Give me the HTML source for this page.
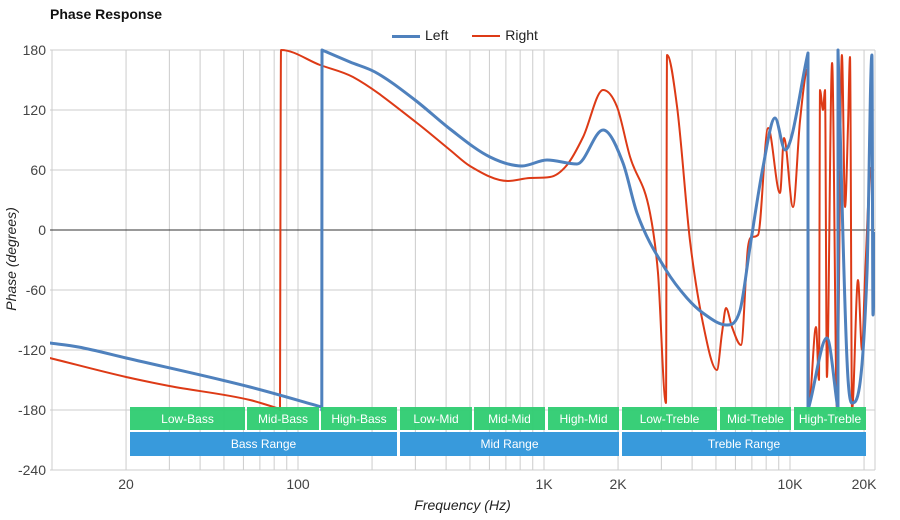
<!DOCTYPE html>
<html><head><meta charset="utf-8"><style>
body{margin:0;background:#fff;}
svg{display:block;font-family:"Liberation Sans",sans-serif;}
</style></head><body>
<svg id="chart" width="900" height="520"></svg>
<script>
const leftFreq=[9.8,12.8,20,63.8,125,125,125.2,162.7,205.6,299,415,603,814,1028,1362,1738,2095,2388,3133,3811,4426,5545,6266,6876,7768,8690,9548,11839,11839,12048,14130,15530,15670,15670,17060,17870,20560,21530,21740,22170];
const leftPhase=[-113,-117,-128,-157,-177,-180,180,168,158,130,101,73,64,70,66,100,67,17,-40,-68,-83,-95,-80,-17,63,112,80,177,-180,-173,-108,-173,-180,180,-132,-173,-43,175,-85,-2];
const rightFreq=[9.8,20,30,63.8,84.5,84.5,85.3,122.9,167.3,304.6,415,500,714,877,1058,1240,1442,1738,1982,2238,2698,2906,3133,3163,3475,3920,4426,5047,5292,5495,5811,6324,6750,7011,7413,8144,9108,9457,10287,10990,11839,11950,12754,13119,13240,13620,13870,14130,14823,15530,16260,16740,17220,17540,17870,18900,19620,20180,21330,21930];
const rightPhase=[-128,-147,-156,-170,-179,-180,180,165,153,107,80,64,49,52,53,65,93,140,123,73,17,-43,-173,175,123,-10,-93,-140,-103,-78,-97,-115,-17,-7,-5,102,37,92,23,110,162,-173,-97,-150,140,120,140,-147,167,-180,175,23,107,173,-180,-50,-120,-48,62,-63];
const yTicks=[180,120,60,0,-60,-120,-180,-240];
const xTickVals=[20,100,1000,2000,10000,20000];
const xTickLabels=["20","100","1K","2K","10K","20K"];
const bandNames=["Low-Bass","Mid-Bass","High-Bass","Low-Mid","Mid-Mid","High-Mid","Low-Treble","Mid-Treble","High-Treble"];
const bandEdges=[[130,245],[247,319],[321,397],[400,472],[474,545],[548,619],[622,717],[720,791],[794,866]];
const rangeNames=["Bass Range","Mid Range","Treble Range"];
const rangeEdges=[[130,397],[400,619],[622,866]];

const NS="http://www.w3.org/2000/svg";
const svg=document.getElementById('chart');
const L=50,R=875,T=50,B=470;
function xs(f){return 298+246*(Math.log10(f)-2);}
function ys(p){return 230-p;}
function mk(tag,attrs,parent){const e=document.createElementNS(NS,tag);for(const k in attrs)e.setAttribute(k,attrs[k]);(parent||svg).appendChild(e);return e;}

const grid=mk('g',{});


for(let dec=10;dec<=10000;dec*=10){for(let m=1;m<10;m++){const f=dec*m;const x=xs(f);if(x<L-0.5||x>R+0.5)continue;
 mk('line',{x1:x,x2:x,y1:T,y2:B,stroke:'#ccc','stroke-width':1},grid);}}
mk('line',{x1:R,x2:R,y1:T,y2:B,stroke:'#ccc','stroke-width':1},grid);
yTicks.forEach(v=>{const y=ys(v);
 mk('line',{x1:L,x2:R,y1:y,y2:y,stroke:v===0?'#333':'#ccc','stroke-width':1},grid);
 const t=mk('text',{x:46,y:y+5,'text-anchor':'end','font-size':14,fill:'#444'});t.textContent=v;
 
 
});
xTickVals.forEach((v,i)=>{const t=mk('text',{x:xs(v),y:489,'text-anchor':'middle','font-size':14,fill:'#444'});t.textContent=xTickLabels[i];
 
 
});

mk('clipPath',{id:'clip'},mk('defs',{}));
mk('rect',{x:L,y:T-2,width:R-L,height:B-T+2},document.getElementById('clip'));

function monoPath(px,py){
 // monotone cubic within a run
 const n=px.length;if(n<2)return '';
 const d=[],m=new Array(n);
 for(let i=0;i<n-1;i++)d.push((py[i+1]-py[i])/(px[i+1]-px[i]));
 m[0]=d[0];m[n-1]=d[n-2];
 for(let i=1;i<n-1;i++){m[i]=(d[i-1]*d[i]<=0)?0:(d[i-1]+d[i])/2;}
 for(let i=0;i<n-1;i++){if(d[i]===0){m[i]=0;m[i+1]=0;continue;}
  const a=m[i]/d[i],b=m[i+1]/d[i],s=a*a+b*b;if(s>9){const t=3/Math.sqrt(s);m[i]=t*a*d[i];m[i+1]=t*b*d[i];}}
 let s='';
 for(let i=0;i<n-1;i++){const h=(px[i+1]-px[i])/3;
  s+='C'+(px[i]+h).toFixed(1)+','+(py[i]+m[i]*h).toFixed(1)+' '+(px[i+1]-h).toFixed(1)+','+(py[i+1]-m[i+1]*h).toFixed(1)+' '+px[i+1].toFixed(1)+','+py[i+1].toFixed(1);}
 return s;
}
function series(fr,ph,color,w,name){
 const px=fr.map(xs),py=ph.map(ys);
 let d='M'+px[0].toFixed(1)+','+py[0].toFixed(1);
 let run=[0];
 const flush=()=>{if(run.length>1)d+=monoPath(run.map(i=>px[i]),run.map(i=>py[i]));};
 for(let i=1;i<px.length;i++){
  if(px[i]-px[i-1]<0.6){flush();d+='L'+px[i].toFixed(1)+','+py[i].toFixed(1);run=[i];}
  else run.push(i);
 }
 flush();
 const p=mk('path',{d:d,fill:'none',stroke:color,'stroke-width':w,'stroke-linejoin':'round','clip-path':'url(#clip)'});
 
 
}
series(rightFreq,rightPhase,'#dd3a16',2,'right-series-line');
series(leftFreq,leftPhase,'#4f81bd',3,'left-series-line');

bandEdges.forEach((e,i)=>{const g=mk('g',{});
 
 
 mk('rect',{x:e[0],y:407,width:e[1]-e[0],height:23,fill:'#2ecc71','fill-opacity':0.95},g);
 const t=mk('text',{x:(e[0]+e[1])/2,y:423,'text-anchor':'middle','font-size':12,fill:'#fff'},g);t.textContent=bandNames[i];});
rangeEdges.forEach((e,i)=>{const g=mk('g',{});
 
 
 mk('rect',{x:e[0],y:432,width:e[1]-e[0],height:24,fill:'#3498db','fill-opacity':0.98},g);
 const t=mk('text',{x:(e[0]+e[1])/2,y:448,'text-anchor':'middle','font-size':12,fill:'#fff'},g);t.textContent=rangeNames[i];});
</script>
<div style="position:absolute;left:50px;top:6px;font:bold 14px 'Liberation Sans',sans-serif;color:#111;">Phase Response</div>
<div style="position:absolute;left:392px;top:27px;font:14px 'Liberation Sans',sans-serif;color:#222;white-space:nowrap;">
 <span><span style="display:inline-block;width:28px;height:3px;background:#4f81bd;vertical-align:middle;margin-right:5px;"></span>Left</span>
 <span style="margin-left:20px;"><span style="display:inline-block;width:28px;height:2px;background:#dd3a16;vertical-align:middle;margin-right:5px;"></span>Right</span>
</div>
<div style="position:absolute;left:0;width:900px;top:497px;text-align:center;font:italic 14px 'Liberation Sans',sans-serif;color:#222;padding-left:25px;box-sizing:border-box;">Frequency (Hz)</div>
<div style="position:absolute;left:-64px;top:251px;width:150px;text-align:center;white-space:nowrap;transform:rotate(-90deg);font:italic 14px 'Liberation Sans',sans-serif;color:#222;">Phase (degrees)</div>
</body></html>
